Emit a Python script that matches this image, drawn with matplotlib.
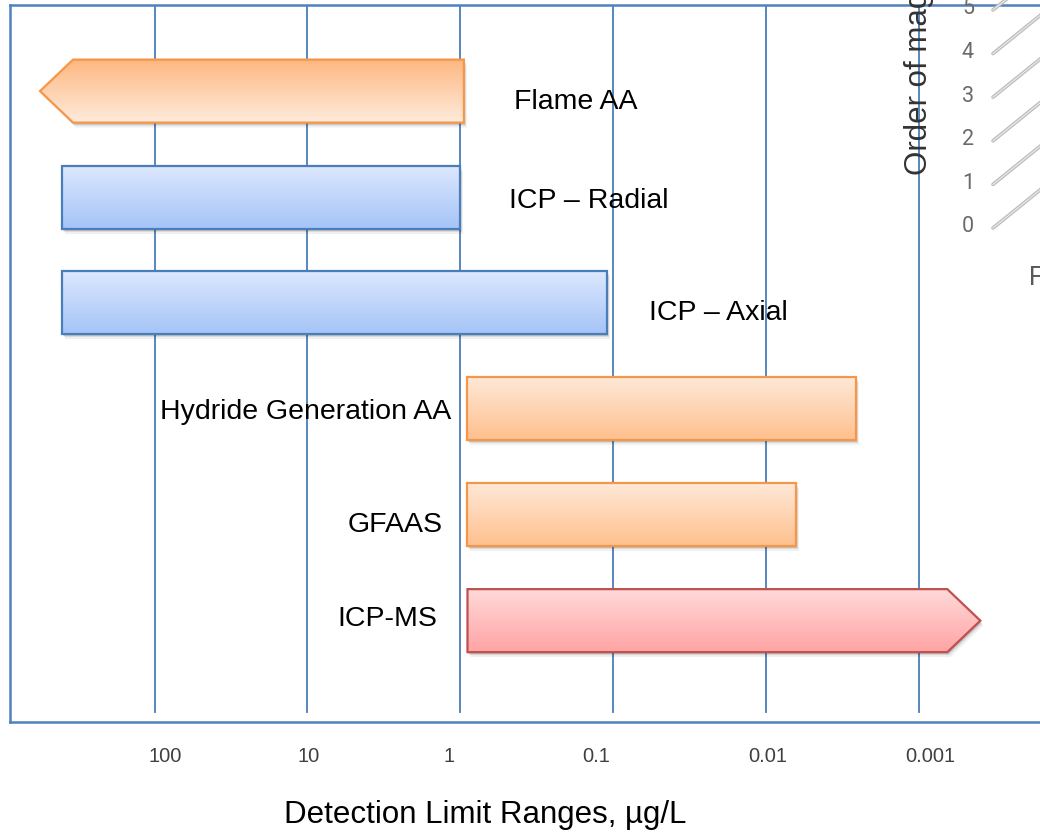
import numpy as np
import matplotlib
matplotlib.use("Agg")
import matplotlib.pyplot as plt
from matplotlib.patches import Polygon
from matplotlib.lines import Line2D
from matplotlib.ticker import NullLocator
from matplotlib.transforms import ScaledTranslation

plt.rcParams['font.family'] = ['Liberation Sans', 'DejaVu Sans']

# detection limit ranges per technique, in ug/L
methods = ["Flame AA", "ICP \u2013 Radial", "ICP \u2013 Axial",
           "Hydride Generation AA", "GFAAS", "ICP-MS"]
dl_high = [560, 400, 400, 0.9, 0.9, 0.9]
dl_low = [0.95, 1.0, 0.11, 0.0026, 0.0064, 0.0004]
open_end = ["high", None, None, None, None, "low"]   # arrow = range keeps going

tick_values = [100, 10, 1, 0.1, 0.01, 0.001]
tick_labels = ["100", "10", "1", "0.1", "0.01", "0.001"]

# bit of the neighbouring chart showing at the right edge
mag_labels = ["0", "1", "2", "3", "4", "5"]

# styles
fill_top = ['#FDB780', '#DDE8FD', '#DDE8FD', '#FFE9D9', '#FFE9D9', '#FFDADA']
fill_bottom = ['#FFEBDD', '#A5C4F8', '#A5C4F8', '#FEC08E', '#FEC08E', '#FFA4A4']
edge = ['#F79646', '#4A7EBB', '#4A7EBB', '#F79646', '#F79646', '#C0504D']
label_side = ['right', 'right', 'right', 'left', 'left', 'left']
label_offset = [(50, -18), (49, -11), (42, -17), (-16, -10), (-25, -17), (-30, -5)]
tick_shift = [11, 1, -11, -17, 1, 11]   # pixels, tick labels sit a little off the lines

W, H = 1040, 832
fig = plt.figure(figsize=(W / 100, H / 100), dpi=100)
ax = fig.add_axes([10 / W, 1 - 722 / H, 1 - 10 / W, 717 / H])
ax.set_autoscale_on(False)
ax.set_xscale('log')
XLIM = (880, 1.63e-4)
YLIM = (5.957, -0.813)
ax.set_xlim(*XLIM)
ax.set_ylim(*YLIM)

for s in ['left', 'bottom', 'top']:
    ax.spines[s].set_color('#4F81BD')
    ax.spines[s].set_linewidth(1.8)
ax.spines['right'].set_visible(False)

for v in tick_values:
    ax.axvline(v, ymin=0.014, ymax=1, color='#4A7EBB', lw=1.3, zorder=1)

ax.set_yticks([])
ax.set_xticks(tick_values, tick_labels)
ax.xaxis.set_minor_locator(NullLocator())
ax.tick_params(axis='x', length=0, pad=18, labelsize=14.5, labelcolor='#404040')
for lab, dx in zip(ax.get_xticklabels(), tick_shift):
    lab.set_transform(lab.get_transform() + ScaledTranslation(dx / 100, 0, fig.dpi_scale_trans))


def yfrac(y):
    return (YLIM[0] - y) / (YLIM[0] - YLIM[1])


def mix(c0, c1, n=64):
    a = np.array(matplotlib.colors.to_rgb(c0))
    b = np.array(matplotlib.colors.to_rgb(c1))
    t = np.linspace(0, 1, n)[:, None]
    return (a * (1 - t) + b * t)[:, None, :]


bar_h = 0.595
head = 0.216  # arrow head length in decades

for i, name in enumerate(methods):
    y0, y1 = i - bar_h / 2, i + bar_h / 2
    lo, hi = dl_low[i], dl_high[i]
    if open_end[i] == "high":
        base = 10 ** (np.log10(hi) - head)
        verts = [(hi, i), (base, y0), (lo, y0), (lo, y1), (base, y1)]
    elif open_end[i] == "low":
        base = 10 ** (np.log10(lo) + head)
        verts = [(hi, y0), (base, y0), (lo, i), (base, y1), (hi, y1)]
    else:
        verts = [(hi, y0), (lo, y0), (lo, y1), (hi, y1)]

    # soft drop shadow
    for dx, dy, a in [(1, -2, 0.12), (2, -3, 0.09), (3, -5, 0.06)]:
        sh = Polygon(verts, closed=True, fc='black', ec='none', alpha=a, zorder=2,
                     transform=ax.transData + ScaledTranslation(dx / 100, dy / 100, fig.dpi_scale_trans))
        ax.add_patch(sh)

    clip = Polygon(verts, closed=True, fc='none', ec='none', zorder=3)
    ax.add_patch(clip)
    im = ax.imshow(mix(fill_top[i], fill_bottom[i]), extent=[0, 1, yfrac(y1), yfrac(y0)],
                   transform=ax.transAxes, aspect='auto', interpolation='bilinear', zorder=3)
    im.set_clip_path(clip)
    ax.add_patch(Polygon(verts, closed=True, fc='none', ec=edge[i], lw=1.6, zorder=4,
                         joinstyle='miter'))

    if label_side[i] == 'right':
        ax.annotate(name, xy=(lo, i), xytext=label_offset[i], textcoords='offset pixels',
                    ha='left', va='baseline', fontsize=20.5, color='black')
    else:
        ax.annotate(name, xy=(hi, i), xytext=label_offset[i], textcoords='offset pixels',
                    ha='right', va='baseline', fontsize=20.5, color='black')

ax.set_xlim(*XLIM)
ax.set_ylim(*YLIM)

fig.text(485 / W, 1 - 823 / H, "Detection Limit Ranges, \u00b5g/L",
         ha='center', va='baseline', fontsize=22.5)

# neighbouring chart fragment
fig.text(927 / W, 1 - 175 / H, "Order of magnitude", rotation=90, rotation_mode='anchor',
         ha='left', va='baseline', fontsize=22.5, color='#333333')
for j, lab in enumerate(mag_labels):
    yc = 227 - j * 43.6
    fig.text(968 / W, 1 - yc / H, lab, ha='center', va='center', fontsize=15.5,
             family='Roboto', color='#6A6A6A')
    xs = [993 / W, 1070 / W]
    ys = [1 - (yc + 1) / H, 1 - (yc + 1 - 38 * 77 / 47) / H]
    fig.add_artist(Line2D(xs, ys, color='#BBBBBB', lw=2.6, solid_capstyle='round'))
    fig.add_artist(Line2D(xs, ys, color='#E8E8E8', lw=0.9))
fig.text(1029 / W, 1 - 285 / H, "F", fontsize=18, family='Roboto', color='#595959',
         va='baseline')

fig.savefig("out.png", dpi=100)
